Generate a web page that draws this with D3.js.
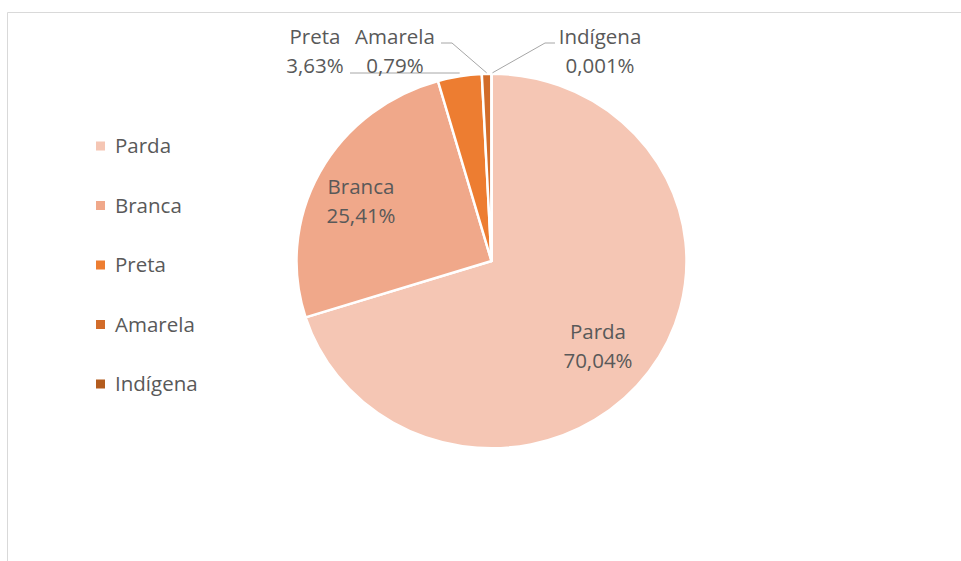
<!DOCTYPE html>
<html>
<head>
<meta charset="utf-8">
<script src="https://cdn.jsdelivr.net/npm/d3@7"></script>
<style>
  html, body { margin: 0; padding: 0; background: #fff; }
  svg { display: block; }
  text { font-family: "Open Sans", sans-serif; fill: #595959; }
</style>
</head>
<body>
<svg id="chart" width="961" height="561"></svg>
<script>
// Share of each race/colour group (%)
const categories = ["Parda", "Branca", "Preta", "Amarela", "Indígena"];
const values = [70.04, 25.41, 3.63, 0.79, 0.001];
const valueLabels = ["70,04%", "25,41%", "3,63%", "0,79%", "0,001%"];
const colors = ["#F5C6B4", "#F0A88A", "#ED7D31", "#D26C2A", "#B35C1E"];

const data = categories.map((c, i) => ({ name: c, value: values[i], label: valueLabels[i], color: colors[i] }));

const svg = d3.select("#chart");

// Plot-area frame (left and top edges are all that fall inside the view)
svg.append("path")
  .attr("d", "M7.5,561 V12.5 H961")
  .attr("fill", "none")
  .attr("stroke", "#D9D9D9")
  .attr("stroke-width", 1);

const cx = 491.5, cy = 261, r = 195, yScale = 0.96;
const fontSize = 20.5;

const pie = d3.pie().sort(null).value(d => d.value);
const arcs = pie(data);
const arc = d3.arc().innerRadius(0).outerRadius(r);

const g = svg.append("g").attr("transform", `translate(${cx},${cy}) scale(1,${yScale})`);
g.selectAll("path.slice")
  .data(arcs)
  .join("path")
  .attr("class", "slice")
  .attr("d", arc)
  .attr("fill", d => d.data.color)
  .attr("stroke", "#fff")
  .attr("stroke-width", 2.5)
  .attr("stroke-linejoin", "round");

// point on the rim at a slice's middle angle, in page coordinates
function rimPoint(a) {
  const m = (a.startAngle + a.endAngle) / 2;
  return [cx + r * Math.sin(m), cy - r * yScale * Math.cos(m)];
}

// Label placement: inside for the big slices, above with leader lines for the thin ones
const labelPos = {
  "Parda":    { x: 598, y: 332 },
  "Branca":   { x: 361, y: 187 },
  "Preta":    { x: 315, y: 37 },
  "Amarela":  { x: 395, y: 37 },
  "Indígena": { x: 600, y: 37 }
};

// Leader lines for the thin slices
const leaders = {
  "Preta":    a => { const p = rimPoint(a); return [[350, 73], [p[0], 73]]; },
  "Amarela":  a => { const p = rimPoint(a); return [[441, 43], [452, 43], [p[0], p[1] - 1]]; },
  "Indígena": a => { const p = rimPoint(a); return [[555, 43], [545, 43], [p[0] + 1, p[1] - 1]]; }
};

arcs.forEach(a => {
  const n = a.data.name;
  if (leaders[n]) {
    svg.append("path")
      .attr("d", d3.line()(leaders[n](a)))
      .attr("fill", "none")
      .attr("stroke", "#A6A6A6")
      .attr("stroke-width", 1);
  }
});

arcs.forEach(a => {
  const n = a.data.name;
  const p = labelPos[n];
  const t = svg.append("text")
    .attr("text-anchor", "middle")
    .attr("font-size", fontSize);
  t.append("tspan").attr("x", p.x).attr("y", p.y).attr("dy", "0.35em").text(n);
  t.append("tspan").attr("x", p.x).attr("y", p.y + 29).attr("dy", "0.35em").text(a.data.label);
});

// Legend
const legend = svg.append("g");
const legendY = d3.scalePoint().domain(categories).range([146, 384]);
const items = legend.selectAll("g").data(data).join("g")
  .attr("transform", d => `translate(96,${legendY(d.name)})`);
items.append("rect")
  .attr("x", 0).attr("y", -4.5).attr("width", 9).attr("height", 9)
  .attr("fill", d => d.color);
items.append("text")
  .attr("x", 19).attr("y", 0).attr("dy", "0.35em")
  .attr("font-size", fontSize)
  .text(d => d.name);
</script>
</body>
</html>
